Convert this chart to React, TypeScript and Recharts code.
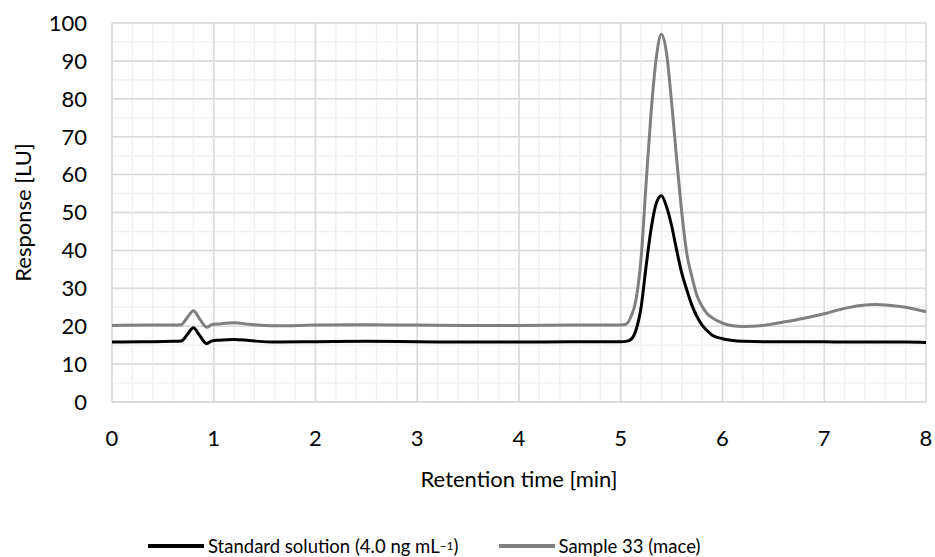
import React from 'react';
import { LineChart, Line, XAxis, YAxis, CartesianGrid } from 'recharts';

// retention time [min] of each sampled point
const times = [
  0, 0.3, 0.6, 0.68, 0.74, 0.8, 0.86, 0.93, 0.98, 1.05, 1.2, 1.35, 1.6, 2.0,
  2.5, 3.0, 3.5, 4.0, 4.5, 5.0, 5.05, 5.1, 5.15, 5.2, 5.25, 5.3, 5.35, 5.4,
  5.45, 5.5, 5.55, 5.6, 5.65, 5.7, 5.75, 5.8, 5.85, 5.9, 6.0, 6.1, 6.2, 6.4,
  6.6, 6.8, 7.0, 7.2, 7.4, 7.5, 7.6, 7.8, 8.0,
];

// response [LU], standard solution (4.0 ng/mL)
const standardValues = [
  15.8, 15.9, 16.0, 16.1, 17.8, 19.6, 17.6, 15.4, 16.1, 16.3, 16.5, 16.2, 15.8,
  15.9, 16.0, 15.9, 15.8, 15.8, 15.9, 15.9, 16.0, 16.5, 19.0, 25.0, 36.0, 46.0,
  52.5, 54.4, 51.5, 46.5, 40.0, 34.0, 29.5, 25.5, 22.5, 20.3, 18.8, 17.6, 16.7,
  16.2, 16.0, 15.9, 15.9, 15.9, 15.9, 15.8, 15.8, 15.8, 15.8, 15.8, 15.7,
];

// response [LU], sample 33 (mace)
const sampleValues = [
  20.2, 20.3, 20.3, 20.4, 22.3, 24.1, 22.0, 19.7, 20.4, 20.6, 20.9, 20.5, 20.1,
  20.3, 20.4, 20.3, 20.2, 20.2, 20.3, 20.3, 20.5, 22.5, 27.0, 38.0, 58.0, 77.0,
  91.0, 97.0, 92.0, 79.0, 64.0, 50.0, 39.0, 33.0, 28.0, 25.2, 23.3, 22.2, 20.8,
  20.1, 19.9, 20.2, 21.1, 22.1, 23.3, 24.7, 25.6, 25.7, 25.6, 25.0, 23.8,
];

const xTicks = [0, 1, 2, 3, 4, 5, 6, 7, 8];
const yTicks = [0, 10, 20, 30, 40, 50, 60, 70, 80, 90, 100];
const minorXStep = 0.2;
const minorYStep = 5;

const data = times.map((t, i) => ({
  t,
  standard: standardValues[i],
  sample: sampleValues[i],
}));

const FONT = 'Lato, "Open Sans", sans-serif';
const X_MAX = 8;
const Y_MAX = 100;

const minorX = Array.from({ length: X_MAX / minorXStep + 1 }, (_, i) => i * minorXStep);
const minorY = Array.from({ length: Y_MAX / minorYStep + 1 }, (_, i) => i * minorYStep);

const legendSwatch = (color: string) => (
  <span style={{ width: 56, height: 4, background: color, marginRight: 4 }} />
);

export default function App() {
  return (
    <div style={{ position: 'absolute', left: 0, top: 0, width: 935, height: 557, background: '#fff' }}>
      <LineChart
        width={935}
        height={557}
        data={data}
        margin={{ top: 23, right: 9, left: 0, bottom: 55 }}
      >
        {/* minor grid */}
        <CartesianGrid
          stroke='#f0f0f0'
          strokeWidth={1.5}
          verticalCoordinatesGenerator={({ offset }: any) =>
            minorX.map((v) => offset.left + (offset.width * v) / X_MAX)
          }
          horizontalCoordinatesGenerator={({ offset }: any) =>
            minorY.map((v) => offset.top + offset.height - (offset.height * v) / Y_MAX)
          }
        />
        {/* major grid */}
        <CartesianGrid stroke='#d9d9d9' strokeWidth={1.5} />
        <XAxis
          dataKey='t'
          type='number'
          domain={[0, X_MAX]}
          ticks={xTicks}
          height={100}
          tickLine={false}
          tickSize={0}
          tickMargin={28}
          axisLine={{ stroke: '#d9d9d9', strokeWidth: 1.5 }}
          tick={{ fill: '#000', fontSize: 22, fontFamily: FONT }}
          label={{
            content: ({ viewBox }: any) => (
              <text
                x={viewBox.x + viewBox.width / 2}
                y={viewBox.y + 76}
                textAnchor='middle'
                dominantBaseline='central'
                fill='#000'
                fontSize={22}
                fontFamily={FONT}
              >
                Retention time [min]
              </text>
            ),
          }}
        />
        <YAxis
          type='number'
          domain={[0, Y_MAX]}
          ticks={yTicks}
          width={112}
          tickLine={false}
          tickSize={0}
          tickMargin={25}
          axisLine={false}
          tick={{ fill: '#000', fontSize: 22, fontFamily: FONT }}
          label={{
            content: ({ viewBox }: any) => (
              <text
                x={22}
                y={viewBox.y + viewBox.height / 2}
                transform={`rotate(-90, 22, ${viewBox.y + viewBox.height / 2})`}
                textAnchor='middle'
                dominantBaseline='central'
                fill='#000'
                fontSize={22}
                fontFamily={FONT}
              >
                Response [LU]
              </text>
            ),
          }}
        />
        <Line
          type='monotone'
          dataKey='standard'
          stroke='#000'
          strokeWidth={3}
          dot={false}
          isAnimationActive={false}
        />
        <Line
          type='monotone'
          dataKey='sample'
          stroke='#7f7f7f'
          strokeWidth={3}
          dot={false}
          isAnimationActive={false}
        />
      </LineChart>
      <div
        style={{
          position: 'absolute',
          left: 148,
          top: 533,
          display: 'flex',
          alignItems: 'center',
          fontFamily: FONT,
          fontSize: 18.5,
          lineHeight: '26px',
          color: '#000',
          whiteSpace: 'nowrap',
        }}
      >
        <span style={{ display: 'flex', alignItems: 'center', marginRight: 40 }}>
          {legendSwatch('#000')}
          Standard solution (4.0 ng mL<sup style={{ fontSize: 12, lineHeight: 0 }}>−1</sup>)
        </span>
        <span style={{ display: 'flex', alignItems: 'center' }}>
          {legendSwatch('#7f7f7f')}
          Sample 33 (mace)
        </span>
      </div>
    </div>
  );
}
